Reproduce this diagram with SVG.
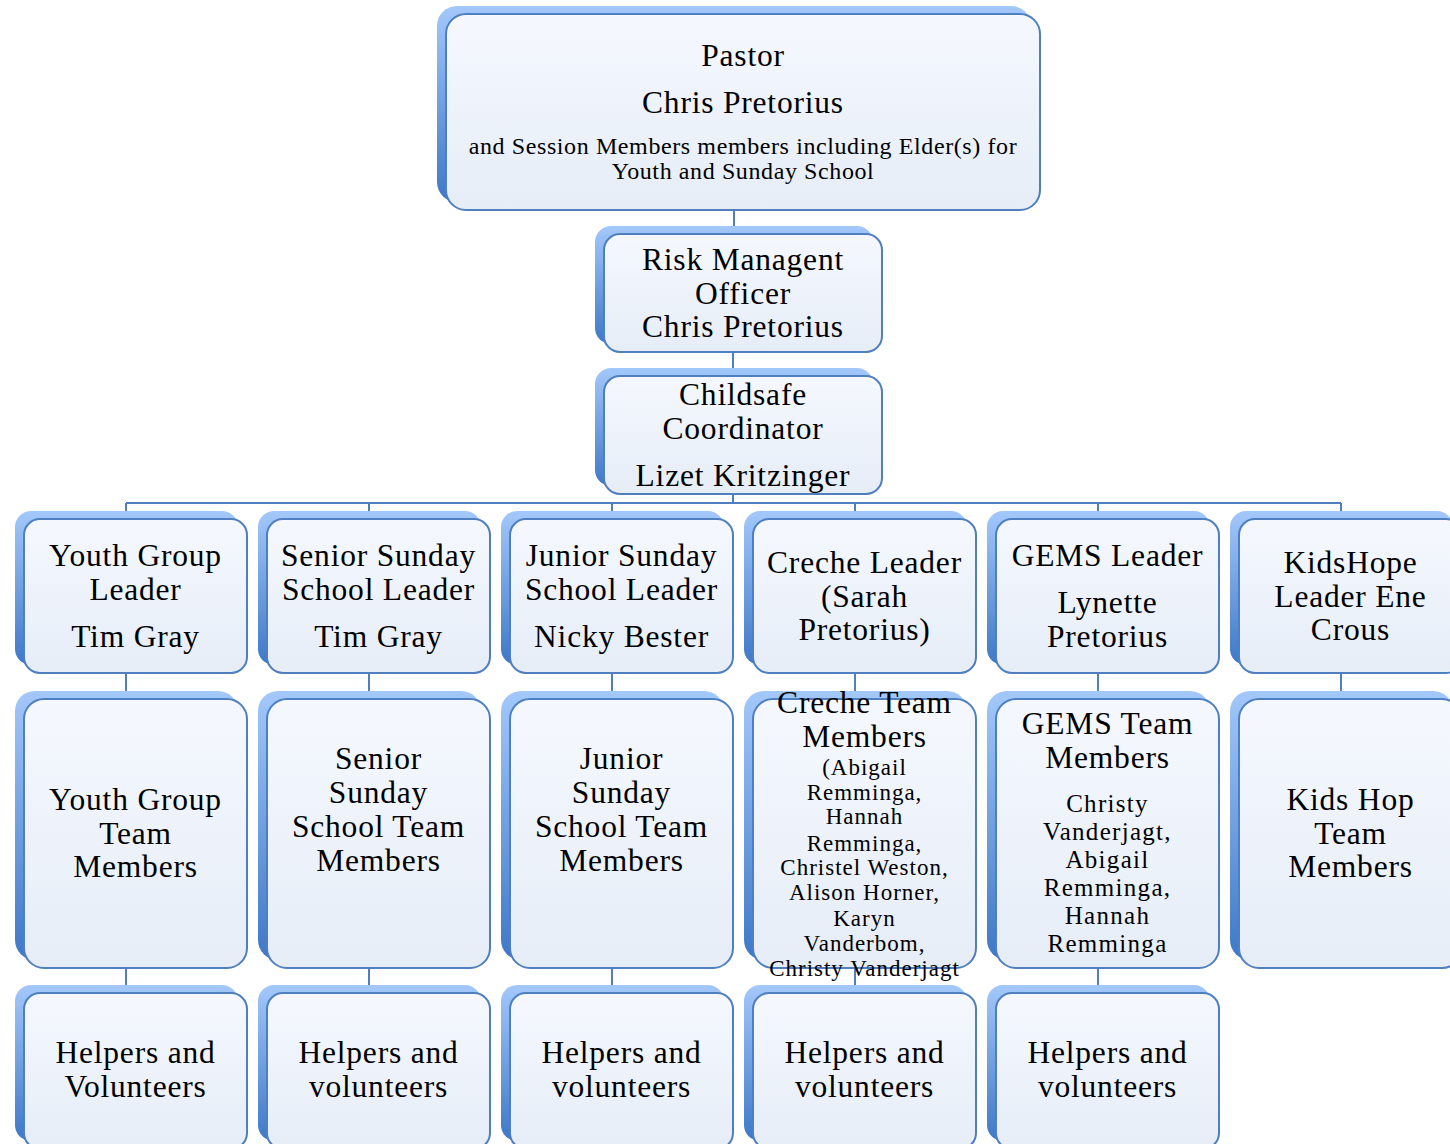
<svg xmlns="http://www.w3.org/2000/svg" width="1450" height="1144" viewBox="0 0 1450 1144">
<defs>
<linearGradient id="gBack" x1="0" y1="0" x2="0" y2="1">
<stop offset="0" stop-color="#a3c8fb"/>
<stop offset="1" stop-color="#3d78c7"/>
</linearGradient>
<linearGradient id="gFront" x1="0" y1="0" x2="0" y2="1">
<stop offset="0" stop-color="#f5f8fe"/>
<stop offset="1" stop-color="#e6edf7"/>
</linearGradient>
<style>
.back{fill:url(#gBack);}
.front{fill:url(#gFront);stroke:#4f7fbf;stroke-width:2;}
.conn{stroke:#4f7fbf;stroke-width:2;fill:none;}
text{font-family:"Liberation Serif",serif;fill:#000;text-anchor:middle;}
.t{font-size:31.5px;letter-spacing:0.8px;}
.s{font-size:24px;letter-spacing:0.6px;}
.c{font-size:23px;letter-spacing:1px;}
.g{font-size:25px;letter-spacing:1.3px;}
</style>
</defs>

<g id="connectors">
<path class="conn" d="M734 210V234M733 352V376M733 494V503M126 503H1341"/>
<path class="conn" d="M126 503V519M369 503V519M612 503V519M855 503V519M1098 503V519M1341 503V519"/>
<path class="conn" d="M126 673V699M369 673V699M612 673V699M855 673V699M1098 673V699M1341 673V699"/>
<path class="conn" d="M126 968V993M369 968V993M612 968V993M855 968V993M1098 968V993"/>
</g>

<g id="pastor">
<rect class="back" x="437" y="6" width="594" height="196" rx="20"/>
<rect class="front" x="446" y="14" width="594" height="196" rx="20"/>
<text class="t" x="743" y="66">Pastor</text>
<text class="t" x="743" y="113">Chris Pretorius</text>
<text class="s" x="743" y="154">and Session Members members including Elder(s) for</text>
<text class="s" x="743" y="179">Youth and Sunday School</text>
</g>

<g id="risk">
<rect class="back" x="595" y="226" width="278" height="118" rx="16"/>
<rect class="front" x="604" y="234" width="278" height="118" rx="16"/>
<text class="t" x="743" y="270">Risk Managent</text>
<text class="t" x="743" y="304">Officer</text>
<text class="t" x="743" y="337">Chris Pretorius</text>
</g>

<g id="childsafe">
<rect class="back" x="595" y="368" width="278" height="118" rx="16"/>
<rect class="front" x="604" y="376" width="278" height="118" rx="16"/>
<text class="t" x="743" y="405">Childsafe</text>
<text class="t" x="743" y="439">Coordinator</text>
<text class="t" x="743" y="486">Lizet Kritzinger</text>
</g>

<g id="youth-leader">
<rect class="back" x="15" y="511" width="223" height="154" rx="16"/>
<rect class="front" x="24" y="519" width="223" height="154" rx="16"/>
<text class="t" x="135.5" y="566">Youth Group</text>
<text class="t" x="135.5" y="600">Leader</text>
<text class="t" x="135.5" y="647">Tim Gray</text>
</g>

<g id="senior-leader">
<rect class="back" x="258" y="511" width="223" height="154" rx="16"/>
<rect class="front" x="267" y="519" width="223" height="154" rx="16"/>
<text class="t" x="378.5" y="566">Senior Sunday</text>
<text class="t" x="378.5" y="600">School Leader</text>
<text class="t" x="378.5" y="647">Tim Gray</text>
</g>

<g id="junior-leader">
<rect class="back" x="501" y="511" width="223" height="154" rx="16"/>
<rect class="front" x="510" y="519" width="223" height="154" rx="16"/>
<text class="t" x="621.5" y="566">Junior Sunday</text>
<text class="t" x="621.5" y="600">School Leader</text>
<text class="t" x="621.5" y="647">Nicky Bester</text>
</g>

<g id="creche-leader">
<rect class="back" x="744" y="511" width="223" height="154" rx="16"/>
<rect class="front" x="753" y="519" width="223" height="154" rx="16"/>
<text class="t" x="864.5" y="573">Creche Leader</text>
<text class="t" x="864.5" y="607">(Sarah</text>
<text class="t" x="864.5" y="640">Pretorius)</text>
</g>

<g id="gems-leader">
<rect class="back" x="987" y="511" width="223" height="154" rx="16"/>
<rect class="front" x="996" y="519" width="223" height="154" rx="16"/>
<text class="t" x="1107.5" y="566">GEMS Leader</text>
<text class="t" x="1107.5" y="613">Lynette</text>
<text class="t" x="1107.5" y="647">Pretorius</text>
</g>

<g id="kidshope-leader">
<rect class="back" x="1230" y="511" width="223" height="154" rx="16"/>
<rect class="front" x="1239" y="519" width="223" height="154" rx="16"/>
<text class="t" x="1350.5" y="573">KidsHope</text>
<text class="t" x="1350.5" y="607">Leader Ene</text>
<text class="t" x="1350.5" y="640">Crous</text>
</g>

<g id="youth-team">
<rect class="back" x="15" y="691" width="223" height="269" rx="20"/>
<rect class="front" x="24" y="699" width="223" height="269" rx="20"/>
<text class="t" x="135.5" y="810">Youth Group</text>
<text class="t" x="135.5" y="844">Team</text>
<text class="t" x="135.5" y="877">Members</text>
</g>

<g id="senior-team">
<rect class="back" x="258" y="691" width="223" height="269" rx="20"/>
<rect class="front" x="267" y="699" width="223" height="269" rx="20"/>
<text class="t" x="378.5" y="769">Senior</text>
<text class="t" x="378.5" y="803">Sunday</text>
<text class="t" x="378.5" y="837">School Team</text>
<text class="t" x="378.5" y="871">Members</text>
</g>

<g id="junior-team">
<rect class="back" x="501" y="691" width="223" height="269" rx="20"/>
<rect class="front" x="510" y="699" width="223" height="269" rx="20"/>
<text class="t" x="621.5" y="769">Junior</text>
<text class="t" x="621.5" y="803">Sunday</text>
<text class="t" x="621.5" y="837">School Team</text>
<text class="t" x="621.5" y="871">Members</text>
</g>

<g id="creche-team">
<rect class="back" x="744" y="691" width="223" height="269" rx="20"/>
<rect class="front" x="753" y="699" width="223" height="269" rx="20"/>
<text class="t" x="864.5" y="713">Creche Team</text>
<text class="t" x="864.5" y="747">Members</text>
<text class="c" x="864.5" y="775">(Abigail</text>
<text class="c" x="864.5" y="800">Remminga,</text>
<text class="c" x="864.5" y="824">Hannah</text>
<text class="c" x="864.5" y="851">Remminga,</text>
<text class="c" x="864.5" y="875">Christel Weston,</text>
<text class="c" x="864.5" y="900">Alison Horner,</text>
<text class="c" x="864.5" y="926">Karyn</text>
<text class="c" x="864.5" y="951">Vanderbom,</text>
<text class="c" x="864.5" y="976">Christy Vanderjagt</text>
</g>

<g id="gems-team">
<rect class="back" x="987" y="691" width="223" height="269" rx="20"/>
<rect class="front" x="996" y="699" width="223" height="269" rx="20"/>
<text class="t" x="1107.5" y="734">GEMS Team</text>
<text class="t" x="1107.5" y="768">Members</text>
<text class="g" x="1107.5" y="812">Christy</text>
<text class="g" x="1107.5" y="840">Vanderjagt,</text>
<text class="g" x="1107.5" y="868">Abigail</text>
<text class="g" x="1107.5" y="896">Remminga,</text>
<text class="g" x="1107.5" y="924">Hannah</text>
<text class="g" x="1107.5" y="952">Remminga</text>
</g>

<g id="kidshop-team">
<rect class="back" x="1230" y="691" width="223" height="269" rx="20"/>
<rect class="front" x="1239" y="699" width="223" height="269" rx="20"/>
<text class="t" x="1350.5" y="810">Kids Hop</text>
<text class="t" x="1350.5" y="844">Team</text>
<text class="t" x="1350.5" y="877">Members</text>
</g>

<g id="youth-helpers">
<rect class="back" x="15" y="985" width="223" height="156" rx="16"/>
<rect class="front" x="24" y="993" width="223" height="156" rx="16"/>
<text class="t" x="135.5" y="1063">Helpers and</text>
<text class="t" x="135.5" y="1097">Volunteers</text>
</g>

<g id="senior-helpers">
<rect class="back" x="258" y="985" width="223" height="156" rx="16"/>
<rect class="front" x="267" y="993" width="223" height="156" rx="16"/>
<text class="t" x="378.5" y="1063">Helpers and</text>
<text class="t" x="378.5" y="1097">volunteers</text>
</g>

<g id="junior-helpers">
<rect class="back" x="501" y="985" width="223" height="156" rx="16"/>
<rect class="front" x="510" y="993" width="223" height="156" rx="16"/>
<text class="t" x="621.5" y="1063">Helpers and</text>
<text class="t" x="621.5" y="1097">volunteers</text>
</g>

<g id="creche-helpers">
<rect class="back" x="744" y="985" width="223" height="156" rx="16"/>
<rect class="front" x="753" y="993" width="223" height="156" rx="16"/>
<text class="t" x="864.5" y="1063">Helpers and</text>
<text class="t" x="864.5" y="1097">volunteers</text>
</g>

<g id="gems-helpers">
<rect class="back" x="987" y="985" width="223" height="156" rx="16"/>
<rect class="front" x="996" y="993" width="223" height="156" rx="16"/>
<text class="t" x="1107.5" y="1063">Helpers and</text>
<text class="t" x="1107.5" y="1097">volunteers</text>
</g>
</svg>
